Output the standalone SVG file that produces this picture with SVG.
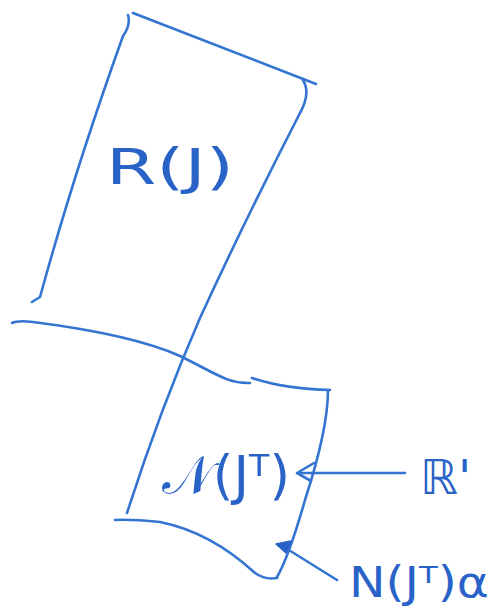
<svg xmlns="http://www.w3.org/2000/svg" width="493" height="608" viewBox="0 0 493 608">
<style>
.s{fill:none;stroke:#3475d2;stroke-width:2.6;stroke-linecap:round;stroke-linejoin:round}
.t{fill:#2a63c8;font-family:"DejaVu Sans","Liberation Sans",sans-serif}
</style>
<rect width="493" height="608" fill="#fff"/>
<g id="range-box">
<path class="s" d="M133,13 L316,84"/>
<path class="s" d="M128,15 Q131,25 123,36 Q75,170 42,290 L40,297 L32,302"/>
<path class="s" d="M303,80 Q311,93 300,113 Q245,220 200,318 Q160,410 127,513"/>
<text class="t" x="106" y="184" font-size="50" textLength="128" lengthAdjust="spacingAndGlyphs">R(J)</text>
</g>
<g id="divider">
<path class="s" d="M12,323 Q18,320 33,322 C80,328 140,338 180,356 C215,373 228,384 250,383"/>
<path class="s" d="M252,378 Q285,389 330,390"/>
</g>
<g id="null-box">
<path class="s" d="M328,390 C328,420 318,460 305,500 C295,535 287,560 277,577"/>
<path class="s" d="M115,520 Q130,519 160,522 C200,530 230,550 255,573 Q265,580 277,578"/>
<text class="t" x="162" y="494" font-size="54" textLength="128" lengthAdjust="spacingAndGlyphs">𝒩(Jᵀ)</text>
</g>
<g id="label-R">
<text class="t" x="420" y="494" font-size="48">ℝ'</text>
</g>
<g id="label-N">
<text class="t" x="349" y="597" font-size="42" textLength="140" lengthAdjust="spacingAndGlyphs">N(Jᵀ)α</text>
</g>
<g id="connectors">
<path class="s" d="M405,473 L300,473"/>
<path class="s" d="M314,463 L297,473 L311,481"/>
<path class="s" d="M337,580 L284,547"/>
<path d="M276,544 L291,541 L286,553 Z" fill="#2a63c8" stroke="#2a63c8" stroke-width="1.5" stroke-linejoin="round"/>
</g>
</svg>
